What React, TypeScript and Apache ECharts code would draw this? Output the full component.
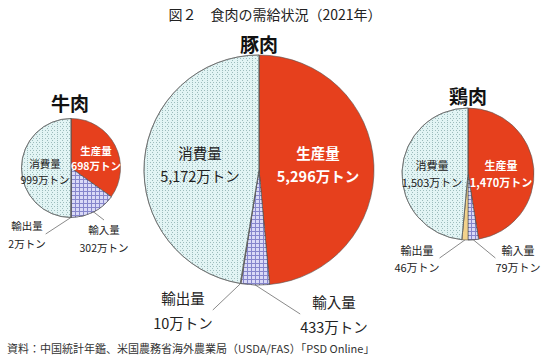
import React, { useEffect, useRef } from "react";
import * as echarts from "echarts";

const chartTitle = "図２　食肉の需給状況（2021年）";
const sourceNote = "資料：中国統計年鑑、米国農務省海外農業局（USDA/FAS）「PSD Online」";
const meatNames = ["牛肉", "豚肉", "鶏肉"];
const itemNames = ["生産量", "輸入量", "輸出量", "消費量"];
const unit = "万トン";
// values in 万トン, order: production, imports, exports, consumption
const beefValues = [698, 302, 2, 999];
const porkValues = [5296, 433, 10, 5172];
const chickenValues = [1470, 79, 46, 1503];

const FONT = "'Noto Sans CJK JP', 'Noto Sans', sans-serif";

const fmt = (v: number) => v.toLocaleString("en-US");

export default function App() {
  const ref = useRef<HTMLDivElement>(null);
  useEffect(() => {
    if (!ref.current) return;
    const chart = echarts.init(ref.current, null, { renderer: "svg" });

    const dotDecal = {
      symbol: "rect",
      symbolSize: 1,
      color: "#9cbcbc",
      dashArrayX: [[1, 2], [0, 1.5, 1, 1.5]],
      dashArrayY: [1, 1],
      rotation: 0,
    };
    const gridDecal = {
      symbol: "rect",
      symbolSize: 1,
      color: "#dadaf7",
      dashArrayX: [2.4, 1],
      dashArrayY: [2.4, 1],
      rotation: 0,
    };

    const sliceStyles = [
      { color: "#e6401d" },
      { color: "#8686cc", decal: gridDecal },
      { color: "#f2d28c" },
      { color: "#e2f4f4", decal: dotDecal },
    ];

    // layout configs (positions) per pie
    const pies = [
      {
        name: meatNames[0],
        values: beefValues,
        center: [71, 168],
        radius: 49.5,
        fontSize: 10.5,
        lineHeights: [15, 18, 18, 16],
        labelPos: [
          [96, 158],
          [104, 238],
          [27, 234],
          [45, 171],
        ],
        titlePos: [70, 102],
      },
      {
        name: meatNames[1],
        values: porkValues,
        center: [259, 170],
        radius: 115,
        fontSize: 14.5,
        lineHeights: [23, 25, 25, 23],
        labelPos: [
          [318, 164],
          [334, 314],
          [183, 310],
          [200, 164],
        ],
        titlePos: [259, 43],
      },
      {
        name: meatNames[2],
        values: chickenValues,
        center: [468, 174],
        radius: 66,
        fontSize: 11,
        lineHeights: [17, 17, 17, 17],
        labelPos: [
          [501, 173],
          [518, 258],
          [417, 258],
          [432, 173],
        ],
        titlePos: [468, 95],
      },
    ];

    const series = pies.map((p) => ({
      type: "pie",
      name: p.name,
      center: p.center,
      radius: p.radius,
      startAngle: 90,
      clockwise: true,
      minAngle: 0,
      avoidLabelOverlap: false,
      silent: true,
      itemStyle: { borderColor: "#555", borderWidth: 0.6 },
      labelLine: {
        show: true,
        length: 5,
        length2: 0,
        lineStyle: { color: "#8a8a8a", width: 1 },
      },
      label: {
        show: true,
        position: "outside",
        fontFamily: FONT,
        fontSize: p.fontSize,
        color: "#222",
        align: "center",
        verticalAlign: "middle",
        formatter: (params: any) => `${params.name}\n${fmt(params.value)}${unit}`,
      },
      labelLayout: (params: any) => {
        const pos = p.labelPos[params.dataIndex];
        return { x: pos[0], y: pos[1], align: "center", verticalAlign: "middle" };
      },
      data: p.values.map((v, i) => ({
        name: itemNames[i],
        value: v,
        itemStyle: sliceStyles[i],
        label: {
          lineHeight: p.lineHeights[i],
          color: i === 0 ? "#ffffff" : "#222",
          fontWeight: i === 0 ? "bold" : "normal",
        },
        labelLine: { show: i === 1 || i === 2 },
      })),
    }));

    const graphics: any[] = [
      {
        type: "text",
        left: "center",
        top: 7,
        style: {
          text: chartTitle,
          font: `14px ${FONT}`,
          fill: "#222",
        },
      },
      {
        type: "text",
        left: 7,
        top: 342,
        style: {
          text: sourceNote,
          font: `11px ${FONT}`,
          fill: "#333",
        },
      },
    ];
    pies.forEach((p) => {
      graphics.push({
        type: "text",
        x: p.titlePos[0],
        y: p.titlePos[1],
        style: {
          text: p.name,
          font: `bold 19px ${FONT}`,
          fill: "#111",
          align: "center",
          verticalAlign: "middle",
        },
      });
    });

    chart.setOption({
      animation: false,
      backgroundColor: "#ffffff",
      series,
      graphic: graphics,
    });
    return () => chart.dispose();
  }, []);

  return <div ref={ref} style={{ width: 550, height: 359, position: "absolute", left: 0, top: 0 }} />;
}
